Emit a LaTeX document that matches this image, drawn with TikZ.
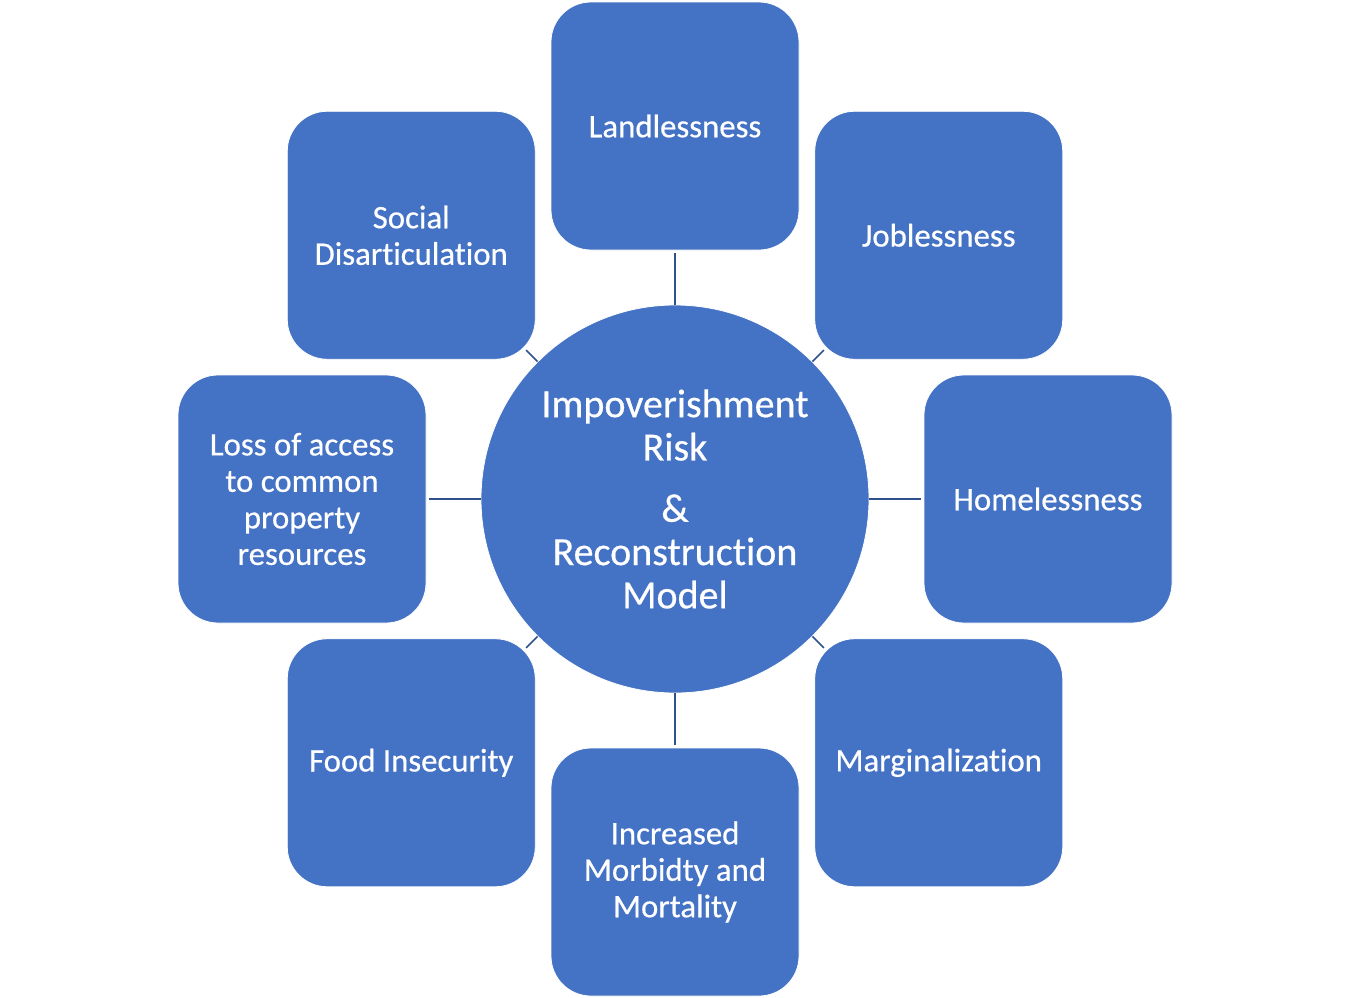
\documentclass[tikz,border=0pt]{standalone}
\usepackage{fontspec}
\setmainfont{Carlito}[Ligatures=NoCommon,UprightFeatures={FakeBold=0.5}]
\definecolor{riskblue}{HTML}{4472C4}
\definecolor{linkblue}{HTML}{2F528F}
\tikzstyle{risk}=[rectangle,rounded corners=40pt,fill=riskblue,draw=white,line width=0.8pt,minimum width=248pt,minimum height=248pt,text=white,align=center,font=\fontsize{32.8}{36.5}\selectfont]
\tikzstyle{hub}=[circle,fill=riskblue,draw=white,line width=0.8pt,minimum size=388pt,inner sep=0pt,text=white,align=center,font=\fontsize{40}{43.3}\selectfont]
\tikzstyle{link}=[draw=linkblue,line width=1.6pt]
\begin{document}
\begin{tikzpicture}[x=1pt,y=-1pt]
\useasboundingbox (0,0) rectangle (1350,997);
\node[hub] (model) at (675,499) {Impoverishment\\Risk\\[18pt]\&\\Reconstruction\\Model};
% the eight risks round the model
\foreach \a/\name/\txt in {90/land/{Landlessness},45/job/{Joblessness},0/home/{Homelessness},-45/marg/{Marginalization},-90/morb/{Increased\\Morbidty and\\Mortality},-135/food/{Food Insecurity},180/cpr/{Loss of access\\to common\\property\\resources},135/soc/{Social\\Disarticulation}} {
  \node[risk] (\name) at ([shift={(\a:373pt)}]model.center) {\txt};
}
% connectors
\foreach \a/\name/\sh in {90/land/3pt,45/job/-13.5pt,0/home/3pt,-45/marg/-13.5pt,-90/morb/3pt,-135/food/-13.5pt,180/cpr/3pt,135/soc/-13.5pt} {
  \draw[link,shorten >=\sh] (model.\a) -- (\name.\a+180);
}
\end{tikzpicture}
\end{document}
